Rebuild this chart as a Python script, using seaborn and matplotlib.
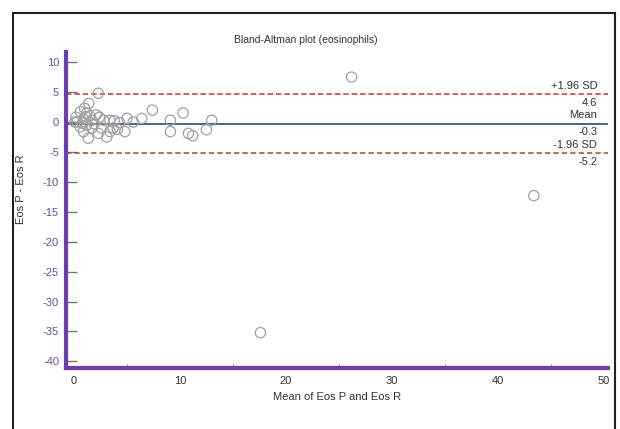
import matplotlib
matplotlib.use("Agg")
import matplotlib.pyplot as plt
import seaborn as sns
import pandas as pd
from matplotlib.patches import Rectangle

# ---- data ----
mean_of_methods = [0.1, 0.2, 0.3, 0.6, 1.0, 1.4, 2.3, 0.6, 0.9, 1.35, 1.7, 1.9, 2.1, 2.4,
                   2.8, 3.4, 3.8, 4.3, 1.7, 2.3, 2.6, 3.1, 3.4, 3.7, 4.1, 4.8, 5.0, 5.6,
                   6.4, 7.4, 9.1, 10.3, 9.1, 10.8, 11.2, 12.5, 13.0, 26.2, 17.6, 43.4,
                   1.2, 0.9, 1.2, 1.5, 0.8, 1.1]
difference = [0.0, 0.8, 0.0, 1.7, 2.3, 3.1, 4.8, -0.8, -1.6, -2.7, 0.3, -0.3, 1.2, 0.8,
              0.3, 0.3, 0.2, -0.1, -1.0, -1.9, -1.0, -2.5, -1.6, -1.0, -1.2, -1.6, 0.6, 0.0,
              0.6, 2.0, 0.3, 1.5, -1.6, -1.9, -2.3, -1.3, 0.3, 7.5, -35.2, -12.3,
              1.5, 0.5, -0.5, 1.0, -0.2, 0.9]
upper_loa = 4.6
mean_diff = -0.3
lower_loa = -5.2
x_ticks = [0, 10, 20, 30, 40, 50]
y_ticks = [10, 5, 0, -5, -10, -15, -20, -25, -30, -35, -40]

df = pd.DataFrame({"m": mean_of_methods, "d": difference})

sns.set_style("white")
plt.rcParams["font.family"] = ["Liberation Sans", "DejaVu Sans"]

W, H = 620, 429
fig = plt.figure(figsize=(W / 100, H / 100), dpi=100)
ax = fig.add_axes([66 / W, 1 - 368 / H, (608 - 66) / W, (368 - 52) / H])

purple = "#6a3db3"
text_col = "#333333"

# reference lines
ax.axhline(upper_loa, color="#c0392b", lw=1.1, ls=(0, (3.5, 2)), zorder=1)
ax.axhline(lower_loa, color="#c0392b", lw=1.1, ls=(0, (3.5, 2)), zorder=1)
ax.axhline(mean_diff, color="#3f6791", lw=1.4, zorder=1)

sns.scatterplot(data=df, x="m", y="d", ax=ax, s=55, marker="o",
                facecolor="none", edgecolor="#a0a0a0", linewidth=0.9, zorder=2)

ax.set_xlim(-0.75, 50.4)
ax.set_ylim(-41.1, 11.7)
ax.set_xticks(x_ticks)
ax.set_xticks([5, 15, 25, 35, 45], minor=True)
ax.set_yticks(y_ticks)
ax.set_yticklabels([str(v) for v in y_ticks])

for s in ["top", "right"]:
    ax.spines[s].set_visible(False)
for s in ["left", "bottom"]:
    ax.spines[s].set_color(purple)
    ax.spines[s].set_linewidth(3)

ax.tick_params(axis="x", which="major", direction="in", length=6, width=1,
               color="#555555", labelsize=8, labelcolor=text_col, pad=6)
ax.tick_params(axis="x", which="minor", direction="in", length=3, width=0.8,
               color="#888888", bottom=True)
ax.tick_params(axis="y", which="major", direction="in", length=8, width=1,
               color="#777777", labelsize=8, labelcolor="#6b4c9a", pad=5, left=True)

ax.set_xlabel("Mean of Eos P and Eos R", fontsize=8, color=text_col, labelpad=4)
ax.set_ylabel("")

# right-side annotations
tx = 0.98
trans = ax.get_yaxis_transform()
for yv, above, below in [(upper_loa, "+1.96 SD", f"{upper_loa:g}"),
                         (mean_diff, "Mean", f"{mean_diff:g}"),
                         (lower_loa, "-1.96 SD", f"{lower_loa:g}")]:
    ax.text(tx, yv + 0.6, above, transform=trans, ha="right", va="bottom",
            fontsize=8, color=text_col)
    ax.text(tx, yv - 0.6, below, transform=trans, ha="right", va="top",
            fontsize=8, color=text_col)

fig.text(306 / W, 1 - 40 / H, "Bland-Altman plot (eosinophils)", ha="center",
         va="center", fontsize=7.5, color=text_col)
fig.text(21 / W, 1 - 189 / H, "Eos P - Eos R", ha="center", va="center",
         rotation=90, fontsize=8, color=text_col)

# outer frame
fig.patches.append(Rectangle((13 / W, -0.05), (615 - 13) / W, 1.05 - 13 / H,
                             transform=fig.transFigure, fill=False,
                             edgecolor="#222222", lw=1.5))

fig.savefig("out.png", dpi=100)
